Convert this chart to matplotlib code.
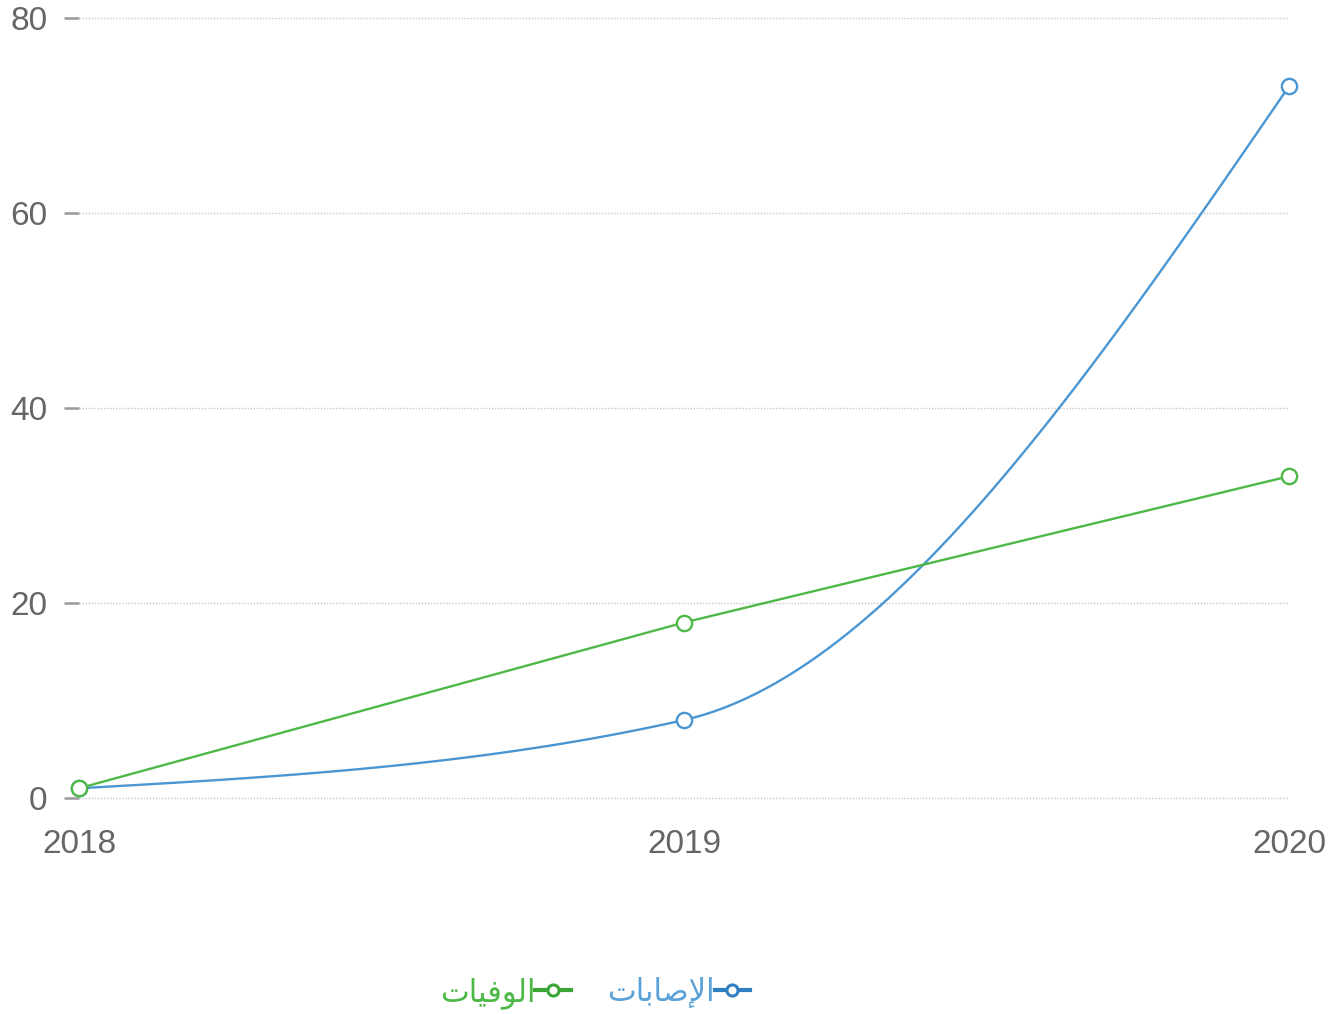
import matplotlib.pyplot as plt
import numpy as np

years = ["2018", "2019", "2020"]
cases = [1, 8, 73]
deaths = [1, 18, 33]
yticks = [0, 20, 40, 60, 80]
# pre-shaped Arabic labels (presentation forms, visual order)
label_cases = "\uFE95\uFE8E\uFE91\uFE8E\uFEBB\uFEF9\uFE8D"   # الإصابات
label_deaths = "\uFE95\uFE8E\uFEF4\uFED3\uFEEE\uFEDF\uFE8D"  # الوفيات

blue = "#4a96d2"
green = "#4db848"


def monotone(y, n=60):
    # d3 curveMonotoneX style interpolation on unit-spaced x
    y = np.asarray(y, float)
    s = np.diff(y)
    t = np.zeros(len(y))
    for i in range(1, len(y) - 1):
        p = (s[i - 1] + s[i]) / 2
        t[i] = (np.sign(s[i - 1]) + np.sign(s[i])) * min(abs(s[i - 1]), abs(s[i]), 0.5 * abs(p))
    t[0] = (3 * s[0] - t[1]) / 2
    t[-1] = (3 * s[-1] - t[-2]) / 2
    xs, ys = [], []
    for i in range(len(y) - 1):
        u = np.linspace(0, 1, n)
        h00 = 2 * u**3 - 3 * u**2 + 1
        h10 = u**3 - 2 * u**2 + u
        h01 = -2 * u**3 + 3 * u**2
        h11 = u**3 - u**2
        xs.append(i + u)
        ys.append(h00 * y[i] + h10 * t[i] + h01 * y[i + 1] + h11 * t[i + 1])
    return np.concatenate(xs), np.concatenate(ys)


plt.rcParams['font.family'] = ['Liberation Sans', 'DejaVu Sans']

fig = plt.figure(figsize=(13.43, 10.14), dpi=100)
ax = fig.add_axes([0.0588, 0.213, 0.9010, 0.7692])

x = np.arange(len(years))
sx, sy = monotone(cases)
ax.plot(sx, sy, color=blue, lw=1.7, clip_on=False, zorder=3)
ax.plot(x, cases, 'o', color=blue, mfc='white', mew=1.7, ms=11, clip_on=False, zorder=4)
ax.plot(x, deaths, '-', color=green, lw=1.7, clip_on=False, zorder=3)
ax.plot(x, deaths, 'o', color=green, mfc='white', mew=1.7, ms=11, clip_on=False, zorder=4)

ax.set_xlim(0, 2)
ax.set_ylim(0, 80)
ax.set_xticks(x, years)
ax.set_yticks(yticks)
for s in ax.spines.values():
    s.set_visible(False)
for v in yticks:
    ax.axhline(v, color='#c8c8c8', linestyle=(0, (1, 1.2)), linewidth=1,
               clip_on=False, zorder=1)
ax.tick_params(axis='y', length=10.5, width=1.8, color='#999999', pad=12,
               labelsize=24, labelcolor='#666666')
ax.tick_params(axis='x', length=0, pad=22, labelsize=24, labelcolor='#666666')

hb, = ax.plot([], [], '-o', color='#2f7fc1', mfc='white', mew=2.2, ms=8, lw=3)
hg, = ax.plot([], [], '-o', color='#3aa535', mfc='white', mew=2.2, ms=8, lw=3)
leg = fig.legend([hg, hb], [label_deaths, label_cases], loc='center',
                 bbox_to_anchor=(0.443, 0.021), ncol=2, frameon=False,
                 markerfirst=False, handlelength=1.15, columnspacing=1.2,
                 handletextpad=0.0, prop={'family': 'DejaVu Sans', 'size': 22})
for txt, c in zip(leg.get_texts(), [green, '#5aa2d8']):
    txt.set_color(c)

fig.savefig("out.png", dpi=100)
